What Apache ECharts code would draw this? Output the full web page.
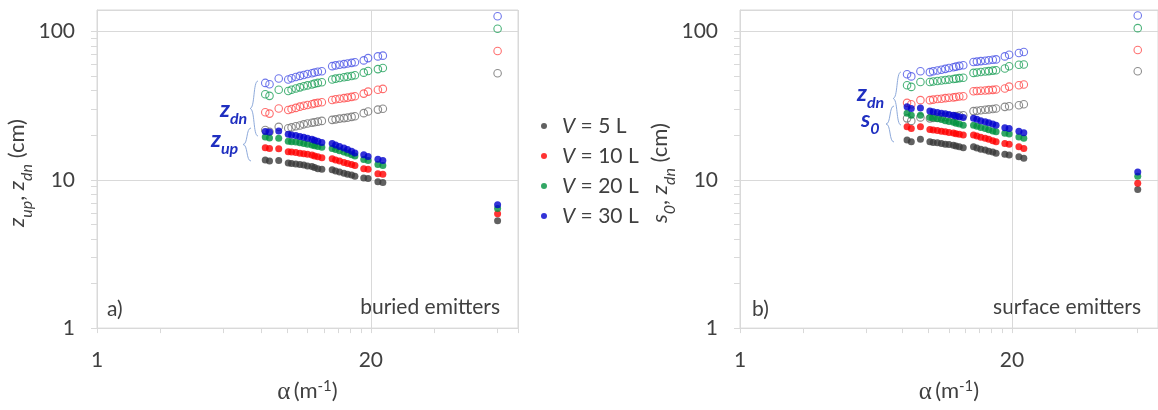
<!DOCTYPE html>
<html>
<head>
<meta charset="utf-8">
<script src="https://cdn.jsdelivr.net/npm/echarts@6/dist/echarts.min.js"></script>
<style>
  html, body { margin: 0; padding: 0; background: #fff; }
  #main { width: 1158px; height: 410px; }
</style>
</head>
<body>
<div id="main"></div>
<script>
// alpha (1/m), shared by both panels
var alpha = [6.3, 6.6, 7.3, 8.1, 8.4, 8.8, 9.2, 9.6, 10.0, 10.5, 10.8, 11.2, 11.7,
             13.1, 13.6, 14.2, 14.9, 15.5, 16.2, 16.8, 18.5, 19.4, 21.6, 22.8, 80];

// a) buried emitters: z_up (filled) and z_dn (open), cm
var aUp5  = [13.6, 13.4, 13.5, 13.0, 12.9, 12.8, 12.7, 12.6, 12.4, 12.3, 12.1, 11.9, 11.8, 11.7, 11.5, 11.3, 11.1, 10.9, 10.8, 10.6, 10.3, 10.2, 9.7, 9.6, 5.3];
var aUp10 = [16.5, 16.3, 16.2, 15.5, 15.4, 15.3, 15.1, 15.0, 14.9, 14.7, 14.5, 14.3, 14.1, 13.9, 13.6, 13.4, 13.1, 12.9, 12.7, 12.5, 11.9, 11.8, 11.0, 10.9, 5.9];
var aUp20 = [19.5, 19.2, 19.1, 18.2, 18.1, 18.0, 17.8, 17.6, 17.4, 17.2, 17.0, 16.8, 16.6, 16.3, 16.0, 15.7, 15.4, 15.1, 14.8, 14.5, 13.7, 13.5, 12.7, 12.5, 6.4];
var aUp30 = [21.2, 21.0, 21.4, 20.3, 20.1, 19.9, 19.6, 19.4, 19.1, 18.8, 18.5, 18.2, 17.9, 17.6, 17.2, 16.8, 16.4, 16.0, 15.6, 15.2, 14.8, 14.4, 13.8, 13.5, 6.8];
var aDn5  = [21.7, 21.1, 22.8, 22.3, 22.6, 23.0, 23.3, 23.7, 24.0, 24.3, 24.5, 24.7, 25.0, 25.4, 25.6, 25.9, 26.1, 26.3, 26.6, 26.9, 28.2, 28.9, 29.8, 30.2, 52.4];
var aDn10 = [28.6, 28.0, 30.3, 29.6, 30.1, 30.6, 31.2, 31.6, 32.0, 32.4, 32.8, 33.1, 33.4, 34.6, 35.0, 35.3, 35.6, 35.9, 36.3, 36.7, 38.2, 39.4, 40.6, 41.1, 74.0];
var aDn20 = [37.8, 36.9, 40.6, 39.8, 40.6, 41.4, 42.1, 42.8, 43.4, 44.0, 44.6, 45.1, 45.6, 47.6, 48.2, 48.7, 49.2, 49.7, 50.2, 50.8, 52.9, 54.3, 55.9, 56.8, 104.6];
var aDn30 = [45.1, 44.2, 48.3, 47.6, 48.5, 49.4, 50.3, 51.0, 51.8, 52.4, 53.0, 53.6, 54.1, 58.5, 59.2, 59.8, 60.4, 61.0, 61.6, 62.2, 64.0, 66.3, 68.1, 68.9, 127];

// b) surface emitters: s_0 (filled) and z_dn (open), cm
var bS5   = [18.6, 18.1, 18.8, 18.1, 17.9, 17.8, 17.6, 17.4, 17.3, 17.1, 16.9, 16.7, 16.5, 16.7, 16.4, 16.1, 15.9, 15.6, 15.4, 15.1, 14.9, 14.7, 14.3, 14.0, 8.6];
var bS10  = [22.8, 22.2, 22.8, 21.9, 21.7, 21.5, 21.3, 21.1, 20.9, 20.7, 20.5, 20.3, 20.1, 20.1, 19.8, 19.4, 19.1, 18.8, 18.4, 18.1, 17.6, 17.4, 16.7, 16.3, 9.5];
var bS20  = [28.1, 27.3, 27.3, 26.4, 26.1, 25.8, 25.5, 25.1, 24.8, 24.5, 24.1, 23.8, 23.4, 23.4, 23.0, 22.6, 22.2, 21.8, 21.4, 21.1, 20.6, 20.4, 19.5, 19.1, 10.6];
var bS30  = [31.1, 30.3, 30.6, 29.1, 28.8, 28.5, 28.2, 27.9, 27.6, 27.3, 27.0, 26.7, 26.4, 26.0, 25.6, 25.1, 24.7, 24.3, 23.8, 23.4, 22.5, 22.2, 21.3, 20.8, 11.3];
var bDn5  = [26.0, 25.0, 26.4, 26.0, 26.2, 26.3, 26.5, 26.6, 26.8, 26.9, 27.0, 27.2, 27.3, 29.1, 29.3, 29.5, 29.7, 29.9, 30.1, 30.3, 31.1, 31.4, 31.9, 32.4, 54.0];
var bDn10 = [33.1, 32.4, 34.5, 34.5, 34.8, 35.1, 35.3, 35.6, 35.8, 36.0, 36.2, 36.5, 36.7, 39.6, 39.8, 39.9, 40.1, 40.3, 40.5, 40.7, 41.4, 42.6, 43.5, 44.0, 75.2];
var bDn20 = [43.5, 42.4, 45.7, 45.7, 46.1, 46.5, 46.8, 47.2, 47.5, 47.9, 48.2, 48.6, 48.9, 52.7, 53.0, 53.4, 53.8, 54.2, 54.6, 54.9, 56.4, 58.4, 59.8, 60.1, 105.6];
var bDn30 = [51.6, 49.9, 54.0, 53.3, 54.0, 54.7, 55.4, 56.1, 56.8, 57.5, 58.1, 58.8, 59.4, 62.4, 62.8, 63.3, 63.7, 64.1, 64.6, 65.0, 68.1, 69.9, 71.7, 72.9, 128.5];

var legendNames = ['V = 5 L', 'V = 10 L', 'V = 20 L', 'V = 30 L'];
var xTicks = [1, 2, 4, 6, 8, 10, 12, 14, 16, 18, 20, 40, 80, 100];
var xLabels = [1, 20];
var yTicks = [1, 2, 3, 4, 5, 6, 7, 8, 9, 10, 20, 30, 40, 50, 60, 70, 80, 90, 100];
var yLabels = [1, 10, 100];

var FONT = 'Lato, "Open Sans", sans-serif';
var TXT = '#404040';
var GRIDC = '#d9d9d9';
var filledColors = ['#3a3a3a', '#ff0000', '#00913f', '#0000cd'];
var openColors = ['#707070', '#ff4b4b', '#1fa05a', '#4b55e6'];

var myChart = echarts.init(document.getElementById('main'));

function pairs(ys) {
    var out = [];
    for (var i = 0; i < ys.length; i++) out.push([alpha[i], ys[i]]);
    return out;
}

function scatter(name, ys, gi, color, filled) {
    return {
        name: name,
        type: 'scatter',
        xAxisIndex: gi * 2,
        yAxisIndex: gi * 2,
        symbol: 'circle',
        symbolSize: filled ? 7 : 7.5,
        itemStyle: filled ? { color: color } : { color: 'rgba(0,0,0,0)', borderColor: color, borderWidth: 1.1 },
        emphasis: { disabled: true },
        data: pairs(ys)
    };
}

function fmt(list) {
    return function (v) {
        var r = Math.round(v);
        return list.indexOf(r) >= 0 && Math.abs(v - r) < 1e-6 ? String(r) : '';
    };
}

var subRich = {
    n: { fontSize: 22, fontFamily: FONT, color: TXT, lineHeight: 26, verticalAlign: 'top' },
    i: { fontSize: 22, fontFamily: FONT, color: TXT, fontStyle: 'italic', lineHeight: 26, verticalAlign: 'top' },
    s: { fontSize: 16, fontFamily: FONT, color: TXT, fontStyle: 'italic', lineHeight: 16, padding: [13, 0, 0, 0], verticalAlign: 'top' },
    a: { fontSize: 25, fontFamily: '"Liberation Serif", serif', color: TXT, lineHeight: 26, padding: [4, 0, 0, 0], verticalAlign: 'top' },
    m: { fontSize: 22, fontFamily: FONT, color: TXT, lineHeight: 26, padding: [4, 0, 0, 0], verticalAlign: 'top' },
    sup: { fontSize: 15, fontFamily: FONT, color: TXT, lineHeight: 15, padding: [3, 0, 0, 0], verticalAlign: 'top' }
};

function mainX(gi) {
    return {
        gridIndex: gi, type: 'log', logBase: 20, min: 1, max: 100,
        name: '{a|α} {m|(m}{sup|-1}{m|)}',
        nameLocation: 'middle', nameGap: 43,
        nameTextStyle: { rich: subRich },
        axisLine: { show: true, lineStyle: { color: GRIDC } },
        axisTick: { show: true, customValues: xTicks, length: 5, lineStyle: { color: GRIDC } },
        axisLabel: { customValues: xLabels, formatter: fmt(xLabels), fontSize: 21, color: TXT, fontFamily: FONT, margin: 22 },
        splitLine: { show: false }
    };
}
function gridX(gi) {
    return {
        gridIndex: gi, type: 'log', logBase: 20, min: 1, max: 100, position: 'bottom',
        axisLine: { show: false }, axisTick: { show: false }, axisLabel: { show: false },
        splitLine: { show: true, lineStyle: { color: GRIDC } }
    };
}
function mainY(gi, name) {
    return {
        gridIndex: gi, type: 'log', logBase: 10, min: 1, max: 140,
        name: name,
        nameLocation: 'middle', nameGap: 37,
        nameTextStyle: { rich: subRich, padding: [0, 8, 0, 0] },
        axisLine: { show: true, lineStyle: { color: GRIDC } },
        axisTick: { show: true, customValues: yTicks, length: 6, lineStyle: { color: GRIDC } },
        axisLabel: { customValues: yLabels, formatter: fmt(yLabels), fontSize: 21, color: TXT, fontFamily: FONT, margin: 22 },
        splitLine: { show: false }
    };
}
function gridY(gi) {
    return {
        gridIndex: gi, type: 'log', logBase: 10, min: 1, max: 140, position: 'left',
        axisLine: { show: false }, axisTick: { show: false }, axisLabel: { show: false },
        splitLine: { show: true, lineStyle: { color: GRIDC } }
    };
}

// curly brace "{" from two cubic curves, tip pointing left
function brace(x, y0, y1) {
    var ym = (y0 + y1) / 2, w = 4;
    var st = { fill: 'none', stroke: '#8eaadb', lineWidth: 1 };
    return {
        type: 'group', silent: true,
        children: [
            { type: 'bezierCurve', shape: { x1: x + w, y1: y0, cpx1: x - 1, cpy1: y0, cpx2: x + 1, cpy2: ym, x2: x - w, y2: ym }, style: st },
            { type: 'bezierCurve', shape: { x1: x - w, y1: ym, cpx1: x + 1, cpy1: ym, cpx2: x - 1, cpy2: y1, x2: x + w, y2: y1 }, style: st }
        ]
    };
}
var annRich = {
    b: { fontSize: 23, fontWeight: 'bold', fontStyle: 'italic', fontFamily: FONT, fill: '#1f2fc0', lineHeight: 26, verticalAlign: 'top' },
    t: { fontSize: 16, fontWeight: 'bold', fontStyle: 'italic', fontFamily: FONT, fill: '#1f2fc0', lineHeight: 16, padding: [13, 0, 0, 0], verticalAlign: 'top' }
};
function ann(x, y, text) {
    return { type: 'text', x: x, y: y, silent: true,
        style: { text: text, rich: annRich, fontSize: 23, fontFamily: FONT } };
}
function plain(x, y, text, align) {
    return { type: 'text', x: x, y: y, silent: true,
        style: { text: text, fontSize: 21, fontFamily: FONT, fill: TXT, align: align || 'left', verticalAlign: 'middle' } };
}

var series = [];
var aUp = [aUp5, aUp10, aUp20, aUp30], aDn = [aDn5, aDn10, aDn20, aDn30];
var bS = [bS5, bS10, bS20, bS30], bDn = [bDn5, bDn10, bDn20, bDn30];
for (var k = 0; k < 4; k++) {
    series.push(scatter('zdn-a-' + k, aDn[k], 0, openColors[k], false));
    series.push(scatter('zdn-b-' + k, bDn[k], 1, openColors[k], false));
}
for (var k2 = 0; k2 < 4; k2++) {
    series.push(scatter(legendNames[k2], aUp[k2], 0, filledColors[k2], true));
    series.push(scatter(legendNames[k2], bS[k2], 1, filledColors[k2], true));
}

option = {
    backgroundColor: '#fff',
    animation: false,
    grid: [
        { left: 97, top: 10, width: 421, height: 319, show: true, borderColor: GRIDC, borderWidth: 1 },
        { left: 740, top: 10, width: 421, height: 319, show: true, borderColor: GRIDC, borderWidth: 1 }
    ],
    legend: {
        data: legendNames,
        orient: 'vertical',
        left: 536, top: 109,
        icon: 'circle',
        itemWidth: 18, itemHeight: 6, itemGap: 6,
        selectedMode: false,
        formatter: function (name) { return '{i|V}{r|' + name.slice(1) + '}'; },
        textStyle: {
            fontSize: 21, lineHeight: 24, color: TXT, fontFamily: FONT,
            rich: {
                i: { fontSize: 21, lineHeight: 24, color: TXT, fontFamily: FONT, fontStyle: 'italic', padding: [0, 0, 0, 4] },
                r: { fontSize: 21, lineHeight: 24, color: TXT, fontFamily: FONT }
            }
        }
    },
    xAxis: [mainX(0), gridX(0), mainX(1), gridX(1)],
    yAxis: [
        mainY(0, '{i|z}{s|up}{n|, }{i|z}{s|dn}{n| (cm)}'), gridY(0),
        mainY(1, '{i|s}{s|0}{n|, }{i|z}{s|dn}{n| (cm)}'), gridY(1)
    ],
    graphic: [
        brace(254, 81, 136), brace(247, 128, 161),
        ann(220, 98, '{b|z}{t|dn}'), ann(211, 128, '{b|z}{t|up}'),
        brace(897, 72, 125), brace(890, 106, 142),
        ann(857, 82, '{b|z}{t|dn}'), ann(861, 108, '{b|s}{t|0}'),
        plain(107, 309, 'a)'), plain(500, 307, 'buried emitters', 'right'),
        plain(752, 309, 'b)'), plain(1141, 307, 'surface emitters', 'right')
    ],
    series: series
};
myChart.setOption(option);
</script>
</body>
</html>
